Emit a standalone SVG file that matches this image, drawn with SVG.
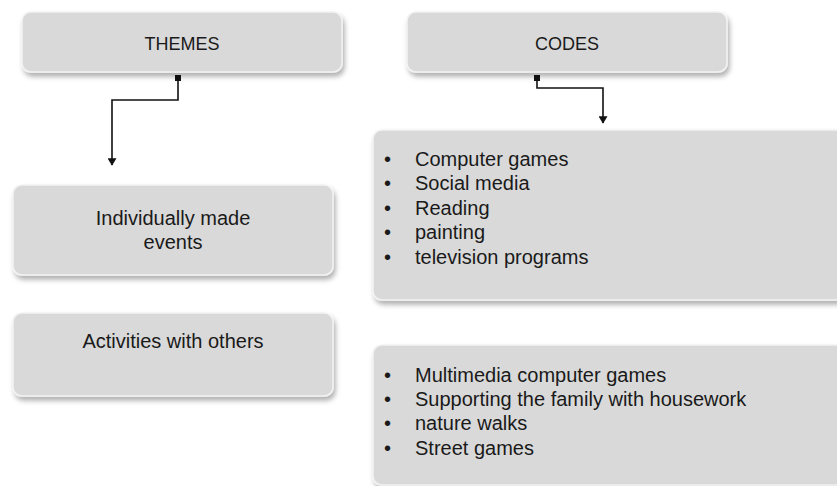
<svg xmlns="http://www.w3.org/2000/svg" width="837" height="486" viewBox="0 0 837 486">
<style>
.box{fill:#d9d9d9;stroke:#f2f2f2;stroke-width:1.5;filter:url(#sh)}
.t{font-family:"Liberation Sans",Arial,sans-serif;fill:#1a1a1a}
.h{font-size:18px;text-anchor:middle}
.c{font-size:20px;text-anchor:middle}
.l{font-size:20px}
.con{fill:none;stroke:#111;stroke-width:1.6}
</style>
<defs>
<filter id="sh" x="-10%" y="-20%" width="125%" height="150%">
<feDropShadow dx="2" dy="4" stdDeviation="2.5" flood-color="#000" flood-opacity="0.3"/>
</filter>
<marker id="ah" viewBox="0 0 10 12" refX="9" refY="6" markerWidth="10" markerHeight="9" orient="auto" markerUnits="userSpaceOnUse">
<path d="M0,0 L10,6 L0,12 z" fill="#111"/>
</marker>
</defs>
<rect width="837" height="486" fill="#fff"/>
<g id="themes">
<rect class="box" x="22" y="12" width="320" height="60" rx="9"/>
<text class="t h" x="182" y="50">THEMES</text>
</g>
<g id="codes">
<rect class="box" x="407" y="12" width="320" height="60" rx="9"/>
<text class="t h" x="567" y="50">CODES</text>
</g>
<g id="individually">
<rect class="box" x="13" y="185" width="320" height="90" rx="9"/>
<text class="t c" x="173" y="225">Individually made</text>
<text class="t c" x="173" y="249">events</text>
</g>
<g id="activities">
<rect class="box" x="13" y="313" width="320" height="83" rx="9"/>
<text class="t c" x="173" y="348">Activities with others</text>
</g>
<g id="codes1">
<rect class="box" x="373" y="130" width="480" height="170" rx="9"/>
<g class="t l">
<text x="384" y="166">•</text><text x="415" y="166">Computer games</text>
<text x="384" y="190">•</text><text x="415" y="190">Social media</text>
<text x="384" y="215">•</text><text x="415" y="215">Reading</text>
<text x="384" y="239">•</text><text x="415" y="239">painting</text>
<text x="384" y="264">•</text><text x="415" y="264">television programs</text>
</g>
</g>
<g id="codes2">
<rect class="box" x="373" y="345" width="480" height="140" rx="9"/>
<g class="t l">
<text x="384" y="382">•</text><text x="415" y="382">Multimedia computer games</text>
<text x="384" y="406">•</text><text x="415" y="406">Supporting the family with housework</text>
<text x="384" y="430">•</text><text x="415" y="430">nature walks</text>
<text x="384" y="455">•</text><text x="415" y="455">Street games</text>
</g>
</g>
<g id="connectors">
<rect x="175" y="75" width="6" height="6" fill="#111"/>
<path class="con" d="M178,78 V100 H112 V165" marker-end="url(#ah)"/>
<rect x="534" y="75" width="6" height="6" fill="#111"/>
<path class="con" d="M537,78 V88 H603 V123" marker-end="url(#ah)"/>
</g>
</svg>
